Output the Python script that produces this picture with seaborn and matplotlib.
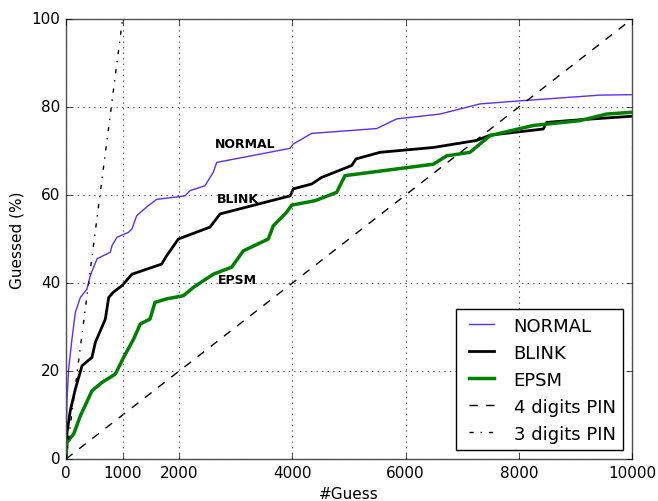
import numpy as np
import pandas as pd
import matplotlib
matplotlib.use("Agg")
import matplotlib.pyplot as plt
import seaborn as sns

# guess curves
normal_x = [0, 5, 18, 47, 106, 165, 253, 371, 430, 548, 783, 813, 901, 1102, 1166, 1249,
            1455, 1572, 1600, 2103, 2191, 2456, 2603, 2662, 3958, 4016, 4341, 5489,
            5843, 6608, 7314, 8021, 9435, 10000]
normal_y = [0, 5, 13.6, 20.5, 27.3, 33.3, 36.7, 38.6, 41.7, 45.5, 47, 48.5, 50.4, 51.5, 52.3,
            55.3, 57.6, 58.7, 59, 59.8, 61, 62.1, 65.2, 67.4, 70.6, 71.6, 74.0, 75.1,
            77.3, 78.4, 80.7, 81.4, 82.7, 82.8]

blink_x = [0, 10, 18, 76, 165, 283, 459, 518, 695, 754, 836, 989, 1166, 1690, 1779, 1985,
           2544, 2721, 3958, 3987, 4016, 4341, 4517, 5047, 5124, 5548, 6490, 7255, 7491,
           8433, 8492, 9081, 10000]
blink_y = [0, 3, 6, 11, 15.9, 21.2, 23.1, 26.5, 31.8, 36.7, 37.9, 39.4, 42, 44.3, 46.2, 50,
           52.7, 55.7, 59.8, 60.5, 61.4, 62.5, 64, 66.7, 68.2, 69.7, 70.8, 72.4, 73.6,
           75, 76.5, 77.1, 77.9]

epsm_x = [0, 18, 136, 253, 459, 636, 871, 1019, 1196, 1313, 1484, 1572, 1779, 2073, 2250,
          2603, 2927, 3133, 3574, 3663, 3899, 3987, 4399, 4782, 4929, 6490, 6726, 7138,
          7491, 8256, 9081, 9552, 10000]
epsm_y = [0, 3.8, 5.7, 9.8, 15.5, 17.4, 19.3, 23.1, 27.3, 30.7, 31.8, 35.6, 36.4, 37.1,
          39, 42, 43.6, 47.3, 50, 53, 56.1, 57.7, 58.7, 60.6, 64.4, 67, 68.9, 69.7,
          73.5, 75.8, 76.9, 78.4, 78.8]

pin4_x = [0, 10000]
pin4_y = [0, 100]
pin3_x = [0, 1000]
pin3_y = [0, 100]

plt.style.use("classic")
plt.rcParams["font.family"] = ["DejaVu Sans"]

fig = plt.figure(figsize=(6.58, 5.02), dpi=100, facecolor="white")
ax = fig.add_axes([66 / 658, 1 - 460 / 502, (632 - 66) / 658, (460 - 20) / 502])

sns.lineplot(x=normal_x, y=normal_y, ax=ax, color="#5b2cff", lw=1, label="NORMAL",
             estimator=None, sort=False)
sns.lineplot(x=blink_x, y=blink_y, ax=ax, color="black", lw=2, label="BLINK",
             estimator=None, sort=False)
sns.lineplot(x=epsm_x, y=epsm_y, ax=ax, color="green", lw=2.5, label="EPSM",
             estimator=None, sort=False)
sns.lineplot(x=pin4_x, y=pin4_y, ax=ax, color="black", lw=1, linestyle="--",
             label="4 digits PIN", estimator=None, sort=False)
sns.lineplot(x=pin3_x, y=pin3_y, ax=ax, color="black", lw=1, linestyle="-.",
             label="3 digits PIN", estimator=None, sort=False)

ax.text(2630, 71.6, "NORMAL", fontsize=9, fontweight="bold", va="center")
ax.text(2670, 59.3, "BLINK", fontsize=9, fontweight="bold", va="center")
ax.text(2690, 40.9, "EPSM", fontsize=9, fontweight="bold", va="center")

ax.set_xlim(0, 10000)
ax.set_ylim(0, 100)
ax.set_xticks([0, 1000, 2000, 4000, 6000, 8000, 10000])
ax.set_yticks([0, 20, 40, 60, 80, 100])
ax.tick_params(labelsize=11)
ax.grid(True, linestyle=":", color="0.35", lw=0.8)
for sp in ax.spines.values():
    sp.set_color("0.3")
ax.set_xlabel("#Guess", fontsize=11)
ax.set_ylabel("Guessed (%)", fontsize=11)
leg = ax.legend(loc="lower right", fontsize=13, frameon=True, handlelength=2)

fig.savefig("out.png", dpi=100, facecolor="white")
